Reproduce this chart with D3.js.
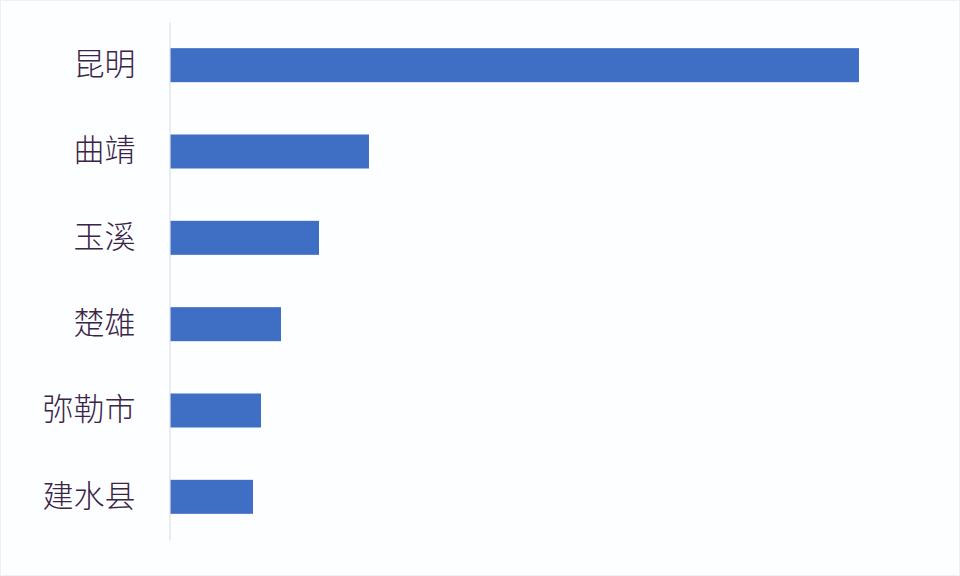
<!DOCTYPE html>
<html>
<head>
<meta charset="utf-8">
<script src="https://cdn.jsdelivr.net/npm/d3@7"></script>
<style>
  html, body { margin: 0; padding: 0; background: #fdfeff; }
  svg { display: block; }
</style>
</head>
<body>
<div id="container"></div>
<script>
// city names, top to bottom
const cities = ["昆明", "曲靖", "玉溪", "楚雄", "弥勒市", "建水县"];
// bar lengths (relative units)
const values = [689, 199, 149, 111, 91, 83];

const w = 960;
const h = 576;

const svg = d3.
select("#container").
append("svg").
attr("width", w).
attr("height", h);

// faint frame around the picture
svg.
append("rect").
attr("x", 0.5).
attr("y", 0.5).
attr("width", w - 1).
attr("height", h - 1).
attr("fill", "#fdfeff").
attr("stroke", "#eef0f3");

const xScale = d3.
scaleLinear().
domain([0, d3.max(values)]).
range([170, 859]);

const yScale = d3.
scaleBand().
domain(cities).
range([22, 540]).
paddingInner(0.606).
paddingOuter(0.303);

svg.
selectAll("rect.bar").
data(cities).
enter().
append("rect").
attr("class", "bar").
attr("x", xScale(0)).
attr("y", d => yScale(d)).
attr("width", (d, i) => xScale(values[i]) - xScale(0)).
attr("height", yScale.bandwidth()).
attr("fill", "#3f6fc5");

// category axis: no ticks, just the thin line and labels
const yAxis = d3.axisLeft(yScale).tickSize(0).tickPadding(34);

const gy = svg.
append("g").
attr("transform", `translate(${xScale(0) - 0.5}, 0)`).
call(yAxis);

gy.select(".domain").
attr("stroke", "#dde0e6").
attr("stroke-width", 1.2);

gy.selectAll("text").
attr("fill", "#3a2448").
style("font-family", "'Noto Sans CJK SC', sans-serif").
style("font-weight", "300").
style("font-size", "31px");
</script>
</body>
</html>
